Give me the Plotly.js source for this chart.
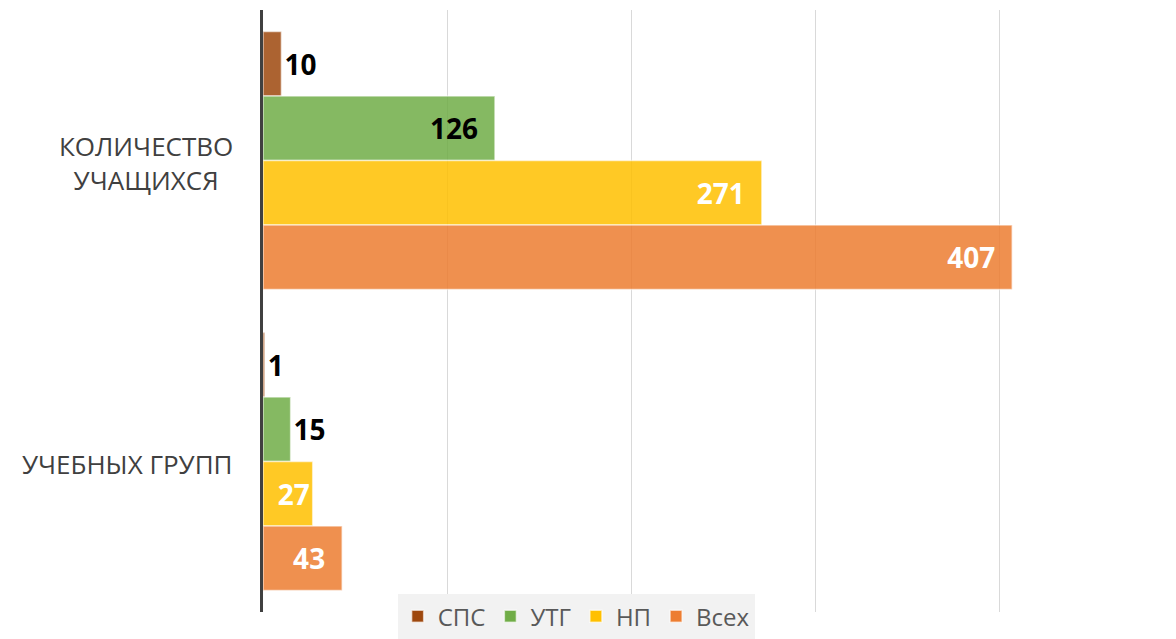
<!DOCTYPE html>
<html>
<head>
<meta charset="utf-8">
<script src="https://cdn.plot.ly/plotly-3.0.1.min.js"></script>
<style>html,body{margin:0;padding:0;background:#fff;}#chart{width:1176px;height:639px;}</style>
</head>
<body>
<div id="chart"></div>
<script>
// ---- data ----
const categories = ['КОЛИЧЕСТВО УЧАЩИХСЯ', 'УЧЕБНЫХ ГРУПП'];
const categoryLabels = ['КОЛИЧЕСТВО<br>УЧАЩИХСЯ', 'УЧЕБНЫХ ГРУПП'];
const seriesNames = ['СПС', 'УТГ', 'НП', 'Всех'];
const spsValues = [10, 1];
const utgValues = [126, 15];
const npValues = [271, 27];
const allValues = [407, 43];

// ---- styling ----
const seriesValues = [spsValues, utgValues, npValues, allValues];
const colors = ['#9E480E', '#70AD47', '#FFC000', '#ED7D31'];
const labelColors = ['#000000', '#000000', '#ffffff', '#ffffff'];
const FONT = '"Open Sans", "DejaVu Sans", sans-serif';

const traces = seriesNames.map((name, i) => {
  const vals = seriesValues[i];
  return {
    type: 'bar',
    orientation: 'h',
    name: name,
    y: categories,
    x: vals,
    marker: {color: colors[i], opacity: 0.85, line: {color: 'rgba(255,255,255,0.6)', width: 1.5}},
    texttemplate: vals.map(v => v < 40 ? '%{x}' : '%{x}\u2002'),
    textposition: vals.map(v => v < 20 ? 'outside' : 'inside'),
    insidetextanchor: 'end',
    textangle: 0,
    constraintext: 'none',
    cliponaxis: false,
    textfont: {family: FONT, size: 28, color: labelColors[i], weight: 'bold'},
    hoverinfo: 'skip'
  };
});

// category labels (centred lines, right edge next to the axis)
const annotations = categories.map((c, ci) => ({
  xref: 'paper', yref: 'y', x: 0, y: c,
  xanchor: 'right', yanchor: 'middle', xshift: -28, yshift: -2,
  text: categoryLabels[ci], showarrow: false, align: 'center',
  font: {family: FONT, size: 26, color: '#404040'}
}));

const layout = {
  width: 1176, height: 639,
  margin: {l: 263, r: 0, t: 10, b: 27, pad: 0, autoexpand: false},
  paper_bgcolor: '#ffffff', plot_bgcolor: '#ffffff',
  barmode: 'group', bargap: 0.143, bargroupgap: 0,
  font: {family: FONT},
  xaxis: {range: [0, 496], dtick: 100, tick0: 0, showgrid: true, gridcolor: '#d9d9d9', gridwidth: 1,
          zeroline: false, showticklabels: false, ticks: '', showline: false, fixedrange: true},
  yaxis: {type: 'category', autorange: 'reversed', showticklabels: false, ticks: '',
          showline: true, linecolor: '#404040', linewidth: 3, showgrid: false, zeroline: false, fixedrange: true},
  showlegend: true,
  legend: {orientation: 'h', x: 0.343, xanchor: 'center', y: -0.0449, yanchor: 'bottom',
           bgcolor: '#f2f2f2', font: {family: FONT, size: 24, color: '#595959'},
           itemwidth: 30, traceorder: 'normal'},
  annotations: annotations
};

Plotly.newPlot('chart', traces, layout, {displayModeBar: false, staticPlot: true});
</script>
</body>
</html>
